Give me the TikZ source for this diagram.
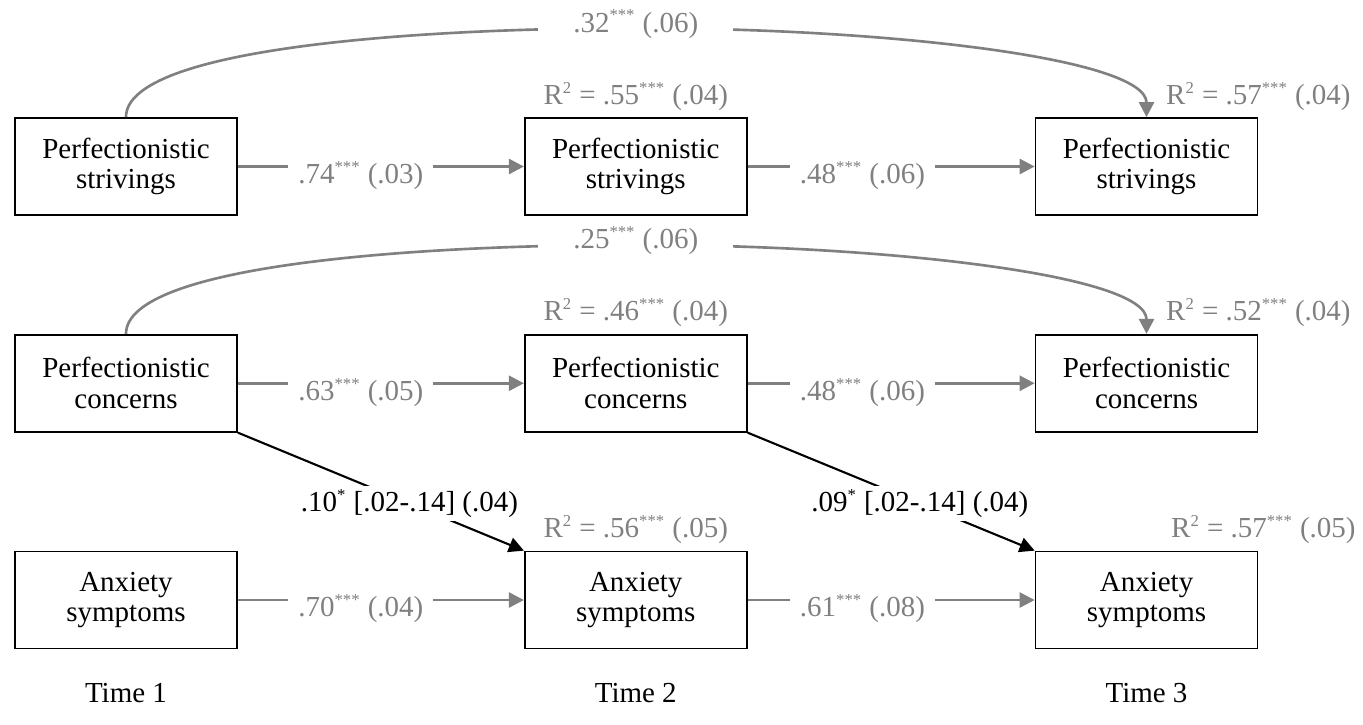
\documentclass[tikz,border=0pt]{standalone}
\usepackage{fontspec}
\setmainfont{Liberation Serif}
\usetikzlibrary{positioning,arrows.meta}
\definecolor{pathgray}{RGB}{128,128,128}
\newcommand{\sig}[1]{\textsuperscript{\fontsize{9.5}{10}\selectfont #1}}
\tikzset{
  var/.style={draw, line width=1pt, minimum width=4.44cm, minimum height=1.94cm, inner sep=0pt,
              align=center, font=\fontsize{16.5}{17.5}\selectfont},
  fwd/.style={-{Triangle[length=0.3cm,width=0.3cm]}, draw=pathgray, line width=1.5pt},
  cross/.style={-{Triangle[length=0.3cm,width=0.3cm]}, draw=black, line width=1.2pt},
  coef/.style={fill=white, text=pathgray, inner xsep=0.2cm, inner ysep=1pt, font=\fontsize{16.5}{19}\selectfont},
  coefb/.style={fill=white, text=black, inner sep=2pt, font=\fontsize{16.5}{19}\selectfont},
  rsq/.style={text=pathgray, inner sep=0pt, font=\fontsize{16.5}{19}\selectfont},
  timelab/.style={inner sep=0pt, font=\fontsize{16.5}{19}\selectfont},
}

\begin{document}
\begin{tikzpicture}
  \useasboundingbox (0,0) rectangle (27.26,-14.48);

  % variables, three waves
  \node[var] (ps1) at (2.52,-3.33) {Perfectionistic\\strivings};
  \node[var] (ps2) [right=5.72cm of ps1] {Perfectionistic\\strivings};
  \node[var] (ps3) [right=5.74cm of ps2] {Perfectionistic\\strivings};
  \node[var] (pc1) [below=2.36cm of ps1] {Perfectionistic\\concerns};
  \node[var] (pc2) [below=2.36cm of ps2] {Perfectionistic\\concerns};
  \node[var] (pc3) [below=2.36cm of ps3] {Perfectionistic\\concerns};
  \node[var] (an1) [below=2.36cm of pc1] {Anxiety\\symptoms};
  \node[var] (an2) [below=2.36cm of pc2] {Anxiety\\symptoms};
  \node[var] (an3) [below=2.36cm of pc3] {Anxiety\\symptoms};

  % explained variance
  \node[rsq] (r2ps2) at ([yshift=0.42cm]ps2.north) {R\sig{2} = .55\sig{***} (.04)};
  \node[rsq] (r2ps3) at ([yshift=0.42cm]ps3.north east) {R\sig{2} = .57\sig{***} (.04)};
  \node[rsq] (r2pc2) at ([yshift=0.42cm]pc2.north) {R\sig{2} = .46\sig{***} (.04)};
  \node[rsq] (r2pc3) at ([yshift=0.42cm]pc3.north east) {R\sig{2} = .52\sig{***} (.04)};
  \node[rsq] (r2an2) at ([yshift=0.42cm]an2.north) {R\sig{2} = .56\sig{***} (.05)};
  \node[rsq] (r2an3) at ([xshift=0.1cm,yshift=0.42cm]an3.north east) {R\sig{2} = .57\sig{***} (.05)};

  % stability paths
  \draw[fwd] (ps1) -- (ps2) node[coef, pos=0.43, yshift=-0.18cm] {.74\sig{***} (.03)};
  \draw[fwd] (ps2) -- (ps3) node[coef, pos=0.40, yshift=-0.18cm] {.48\sig{***} (.06)};
  \draw[fwd] (pc1) -- (pc2) node[coef, pos=0.43, yshift=-0.18cm] {.63\sig{***} (.05)};
  \draw[fwd] (pc2) -- (pc3) node[coef, pos=0.40, yshift=-0.18cm] {.48\sig{***} (.06)};
  \draw[fwd] (an1) -- (an2) node[coef, pos=0.43, yshift=-0.18cm] {.70\sig{***} (.04)};
  \draw[fwd] (an2) -- (an3) node[coef, pos=0.40, yshift=-0.18cm] {.61\sig{***} (.08)};

  % lag-2 paths
  \draw[fwd] (ps1.north) .. controls +(0,1.4) and +(-4.24,0) .. ([yshift=1.78cm]ps2.north)
    node[coef, inner xsep=0.7cm, yshift=0.08cm] (k13s) {.32\sig{***} (.06)}
    .. controls +(5,0) and +(0,1.18) .. (ps3.north);
  \draw[fwd] (pc1.north) .. controls +(0,1.4) and +(-4.24,0) .. ([yshift=1.78cm]pc2.north)
    node[coef, inner xsep=0.7cm, yshift=0.08cm] (k13c) {.25\sig{***} (.06)}
    .. controls +(5,0) and +(0,1.18) .. (pc3.north);

  % cross-lagged paths
  \draw[cross] (pc1.south east) -- (an2.north west)
    node[coefb, pos=0.6] {.10\sig{*} [.02-.14] (.04)};
  \draw[cross] (pc2.south east) -- (an3.north west)
    node[coefb, pos=0.6] {.09\sig{*} [.02-.14] (.04)};

  % waves
  \node[timelab] (t1) at (an1 |- 0,-13.86) {Time 1};
  \node[timelab] (t2) at (an2 |- 0,-13.86) {Time 2};
  \node[timelab] (t3) at (an3 |- 0,-13.86) {Time 3};
\end{tikzpicture}
\end{document}
